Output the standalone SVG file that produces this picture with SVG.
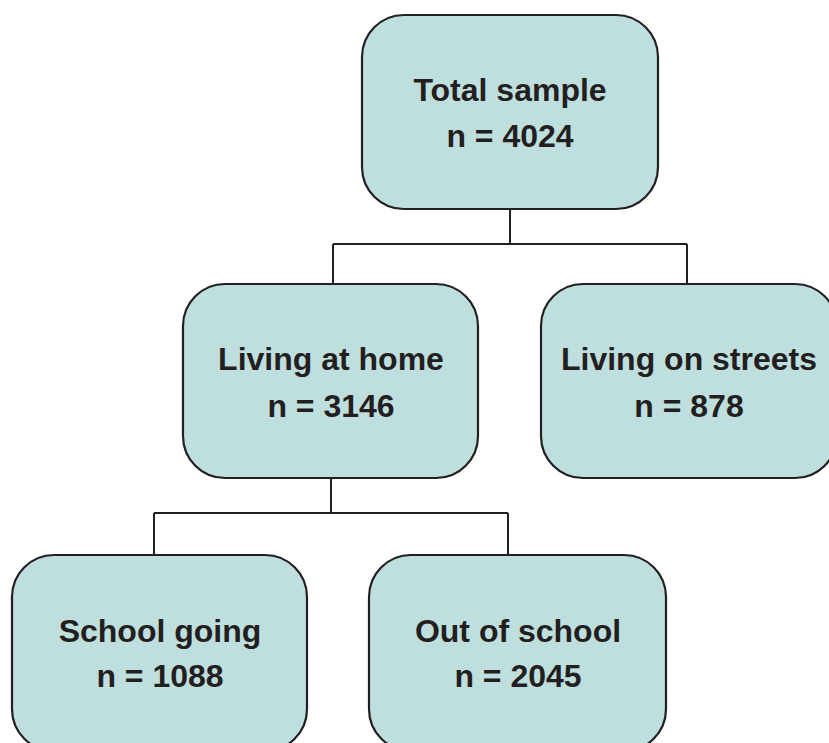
<svg xmlns="http://www.w3.org/2000/svg" width="829" height="743" viewBox="0 0 829 743">
<style>
.box{fill:#bfdfdf;stroke:#231f20;stroke-width:2.2}
.lbl{font-family:"Liberation Sans",Arial,sans-serif;font-weight:bold;font-size:32px;fill:#231f20;text-anchor:middle}
.conn{fill:none;stroke:#231f20;stroke-width:2}
</style>
<rect width="829" height="743" fill="#ffffff"/>
<g id="connectors">
<path class="conn" d="M510,209 V244 M333,244 H687 M333,244 V284 M687,244 V284"/>
<path class="conn" d="M331,478 V513 M154,513 H508 M154,513 V555 M508,513 V555"/>
</g>
<g id="total">
<rect class="box" x="362" y="15" width="296" height="194" rx="42"/>
<text class="lbl" x="510" y="101">Total sample</text>
<text class="lbl" x="510" y="147">n = 4024</text>
</g>
<g id="home">
<rect class="box" x="183" y="284" width="295" height="194" rx="42"/>
<text class="lbl" x="331" y="370">Living at home</text>
<text class="lbl" x="331" y="417">n = 3146</text>
</g>
<g id="streets">
<rect class="box" x="541" y="284" width="296" height="194" rx="42"/>
<text class="lbl" x="689" y="370">Living on streets</text>
<text class="lbl" x="689" y="417">n = 878</text>
</g>
<g id="school">
<rect class="box" x="12" y="555" width="295" height="196" rx="42"/>
<text class="lbl" x="160" y="642">School going</text>
<text class="lbl" x="160" y="687">n = 1088</text>
</g>
<g id="outschool">
<rect class="box" x="369" y="555" width="297" height="196" rx="42"/>
<text class="lbl" x="518" y="642">Out of school</text>
<text class="lbl" x="518" y="687">n = 2045</text>
</g>
</svg>
